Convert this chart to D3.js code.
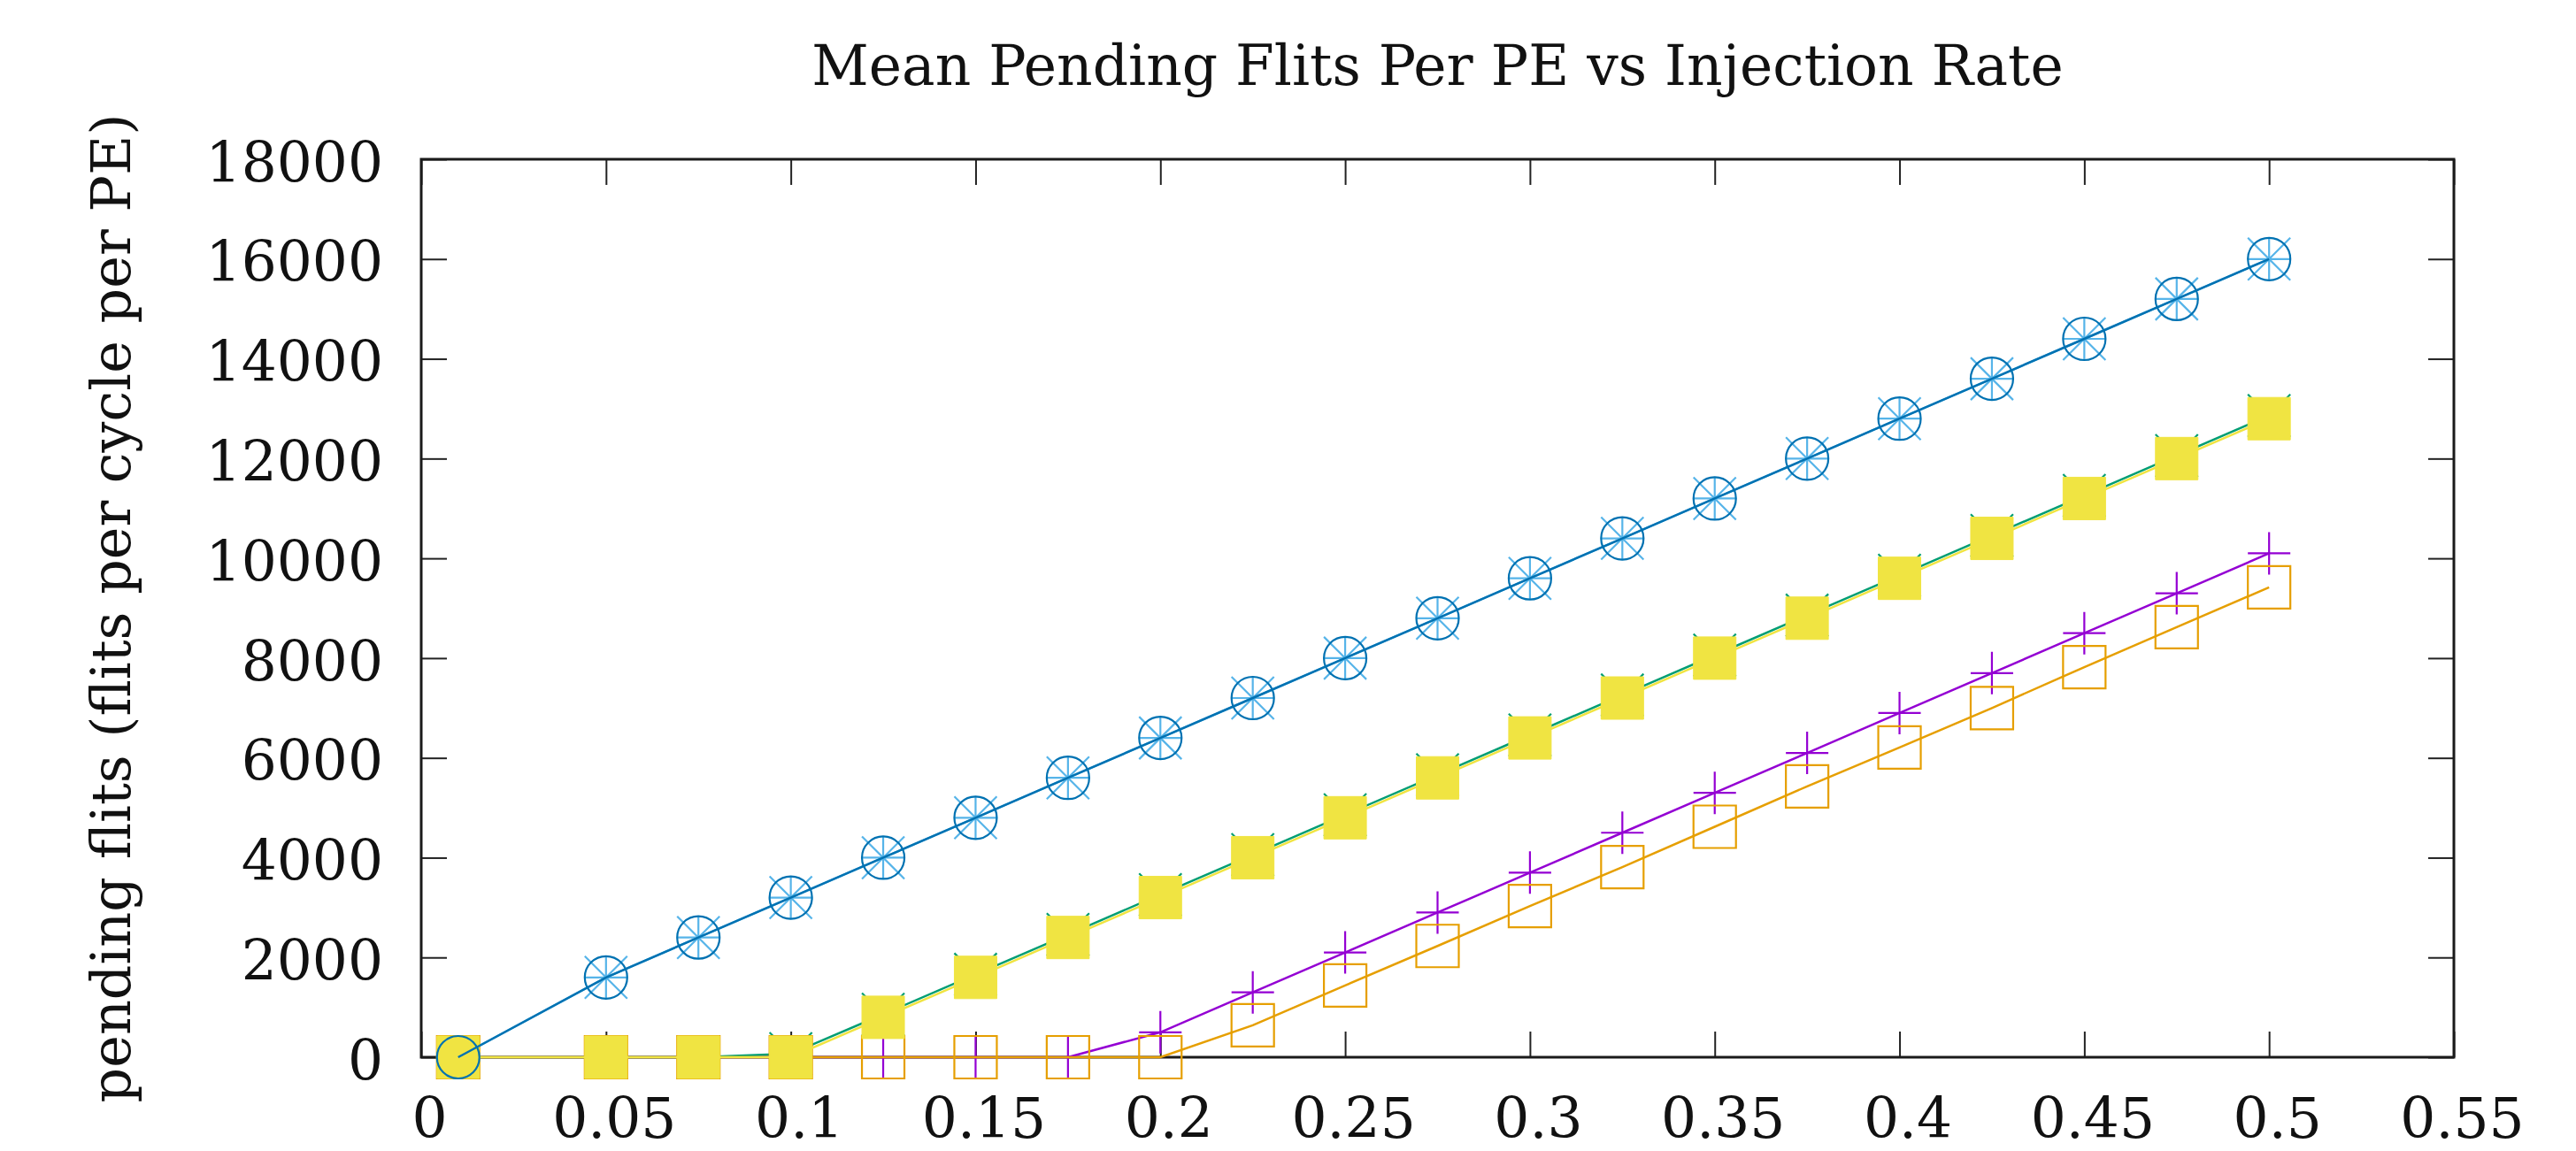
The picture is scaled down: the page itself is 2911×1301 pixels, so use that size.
<!DOCTYPE html>
<html>
<head>
  <meta charset="utf-8">
  <title>Mean Pending Flits Per PE vs Injection Rate</title>
  <script src="https://d3js.org/d3.v7.min.js"></script>
  <style>
    body { margin: 0; background: #fff; }
    text { font-family: "DejaVu Serif", serif; fill: #111; }
  </style>
</head>
<body>
  <div id="chart"></div>
  <script>
    // injection rates (x)
    var rates = [0.01, 0.05, 0.075, 0.1, 0.125, 0.15, 0.175, 0.2, 0.225, 0.25,
                 0.275, 0.3, 0.325, 0.35, 0.375, 0.4, 0.425, 0.45, 0.475, 0.5];

    // pending flits per series
    var purpleVals = [0, 0, 0, 0, 0, 0, 0, 500, 1300, 2100,
                      2900, 3700, 4500, 5300, 6100, 6900, 7700, 8500, 9300, 10100];
    var greenVals = [0, 0, 0, 70, 860, 1660, 2460, 3260, 4060, 4860,
                     5660, 6460, 7260, 8060, 8860, 9660, 10460, 11260, 12060, 12860];
    var lightBlueVals = [0, 1600, 2400, 3200, 4000, 4800, 5600, 6400, 7200, 8000,
                         8800, 9600, 10400, 11200, 12000, 12800, 13600, 14400, 15200, 16000];
    var orangeVals = [0, 0, 0, 0, 0, 0, 0, 0, 640, 1440,
                      2230, 3030, 3810, 4620, 5430, 6210, 7000, 7820, 8620, 9420];
    var yellowVals = [0, 0, 0, 0, 800, 1600, 2400, 3200, 4000, 4800,
                      5600, 6400, 7200, 8000, 8800, 9600, 10400, 11200, 12000, 12800];
    var blueVals = [0, 1600, 2400, 3200, 4000, 4800, 5600, 6400, 7200, 8000,
                    8800, 9600, 10400, 11200, 12000, 12800, 13600, 14400, 15200, 16000];

    // tick values
    var xTicks = [0, 0.05, 0.1, 0.15, 0.2, 0.25, 0.3, 0.35, 0.4, 0.45, 0.5, 0.55];
    var yTicks = [0, 2000, 4000, 6000, 8000, 10000, 12000, 14000, 16000, 18000];

    var titleText = 'Mean Pending Flits Per PE vs Injection Rate';
    var yLabelText = 'pending flits (flits per cycle per PE)';

    // series in gnuplot drawing order
    var series = [
      { values: purpleVals,    color: '#9400d3', marker: 'plus' },
      { values: greenVals,     color: '#009e73', marker: 'cross' },
      { values: lightBlueVals, color: '#56b4e9', marker: 'star' },
      { values: orangeVals,    color: '#e69f00', marker: 'square' },
      { values: yellowVals,    color: '#f0e442', marker: 'fillsquare' },
      { values: blueVals,      color: '#0072b2', marker: 'circle' }
    ];

    var totalW = 2911, totalH = 1301;
    var margin = { top: 180, right: 138, bottom: 106, left: 476 };
    var width = totalW - margin.left - margin.right;
    var height = totalH - margin.top - margin.bottom;
    var fontSize = 63;
    var tickLen = 29;
    var ms = 24; // marker half size

    var x = d3.scaleLinear().domain([0, 0.55]).range([0, width]);
    var y = d3.scaleLinear().domain([0, 18000]).range([height, 0]);

    var svg = d3.select('#chart').append('svg')
      .attr('width', totalW)
      .attr('height', totalH);

    var g = svg.append('g')
      .attr('transform', 'translate(' + margin.left + ',' + margin.top + ')');

    var fmtX = function (d) { return String(+d.toFixed(2)); };

    // bottom axis with labels, ticks pointing inward
    var xAxisG = g.append('g')
      .attr('transform', 'translate(0,' + height + ')')
      .call(d3.axisBottom(x).tickValues(xTicks).tickFormat(fmtX)
        .tickSizeInner(-tickLen).tickSizeOuter(0).tickPadding(46));
    xAxisG.selectAll('text').attr('dx', 9);

    // mirrored top ticks
    var xTopG = g.append('g')
      .call(d3.axisTop(x).tickValues(xTicks).tickFormat('')
        .tickSizeInner(-tickLen).tickSizeOuter(0));

    // left axis
    var yAxisG = g.append('g')
      .call(d3.axisLeft(y).tickValues(yTicks).tickFormat(d3.format('d'))
        .tickSizeInner(-tickLen).tickSizeOuter(0).tickPadding(43));
    yAxisG.selectAll('text').attr('dy', '0.4em');

    // mirrored right ticks
    var yRightG = g.append('g')
      .attr('transform', 'translate(' + width + ',0)')
      .call(d3.axisRight(y).tickValues(yTicks).tickFormat('')
        .tickSizeInner(-tickLen).tickSizeOuter(0));

    [xAxisG, xTopG, yAxisG, yRightG].forEach(function (a) {
      a.select('.domain').remove();
      a.selectAll('line').attr('stroke', '#222').attr('stroke-width', 2);
      a.selectAll('text')
        .style('font-family', '"DejaVu Serif", serif')
        .style('font-size', fontSize + 'px')
        .attr('fill', '#111');
    });

    // plot border
    g.append('rect')
      .attr('x', 0).attr('y', 0)
      .attr('width', width).attr('height', height)
      .attr('fill', 'none')
      .attr('stroke', '#1a1a1a')
      .attr('stroke-width', 3);

    function markerPath(type) {
      var s = ms;
      var plus = 'M' + (-s) + ',0H' + s + 'M0,' + (-s) + 'V' + s;
      var cross = 'M' + (-s) + ',' + (-s) + 'L' + s + ',' + s +
                  'M' + (-s) + ',' + s + 'L' + s + ',' + (-s);
      if (type === 'plus') return plus;
      if (type === 'cross') return cross;
      if (type === 'star') return plus + cross;
      if (type === 'square' || type === 'fillsquare')
        return 'M' + (-s) + ',' + (-s) + 'H' + s + 'V' + s + 'H' + (-s) + 'Z';
      if (type === 'circle')
        return 'M' + s + ',0A' + s + ',' + s + ' 0 1,1 ' + (-s) + ',0A' + s + ',' + s + ' 0 1,1 ' + s + ',0Z';
      return '';
    }

    var line = d3.line()
      .x(function (d) { return x(d[0]); })
      .y(function (d) { return y(d[1]); });

    series.forEach(function (s) {
      var pts = rates.map(function (r, i) { return [r, s.values[i]]; });
      var sg = g.append('g');

      sg.append('path')
        .datum(pts)
        .attr('d', line)
        .attr('fill', 'none')
        .attr('stroke', s.color)
        .attr('stroke-width', 2.5);

      sg.selectAll('path.mark')
        .data(pts)
        .enter()
        .append('path')
          .attr('class', 'mark')
          .attr('transform', function (d) { return 'translate(' + x(d[0]) + ',' + y(d[1]) + ')'; })
          .attr('d', markerPath(s.marker))
          .attr('fill', s.marker === 'fillsquare' ? s.color : 'none')
          .attr('stroke', s.color)
          .attr('stroke-width', s.marker === 'fillsquare' ? 1 : 2.2);
    });

    // title
    svg.append('text')
      .attr('x', margin.left + width / 2)
      .attr('y', 96)
      .attr('text-anchor', 'middle')
      .style('font-size', '63px')
      .text(titleText);

    // y axis label
    svg.append('text')
      .attr('transform', 'translate(147,' + (margin.top + height / 2) + ') rotate(-90)')
      .attr('text-anchor', 'middle')
      .style('font-size', '62px')
      .text(yLabelText);
  </script>
</body>
</html>
